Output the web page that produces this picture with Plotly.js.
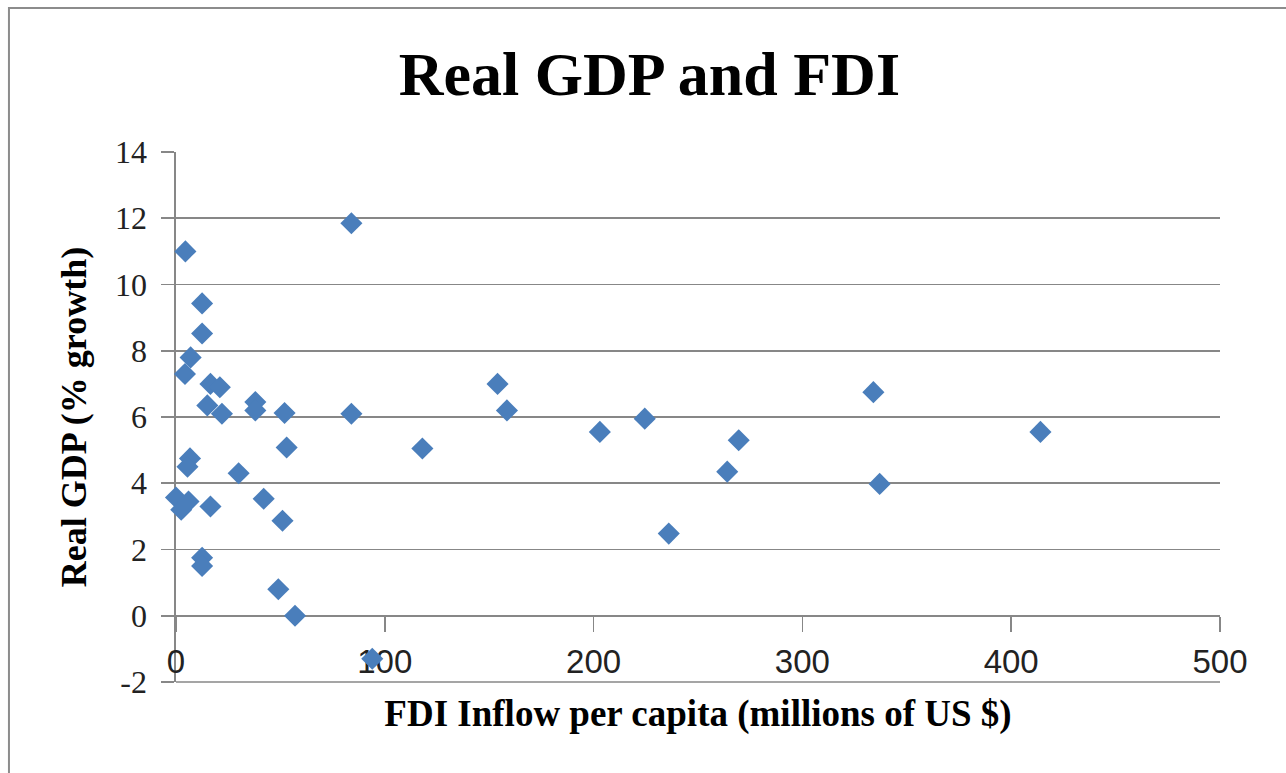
<!DOCTYPE html>
<html>
<head>
<meta charset="utf-8">
<script src="https://cdn.plot.ly/plotly-3.0.1.min.js"></script>
<style>html,body{margin:0;padding:0;background:#fff;} #chart{width:1286px;height:773px;}</style>
</head>
<body>
<div id="chart"></div>
<script>
// FDI inflow per capita (millions of US $)
const fdi = [4.5, 84, 12.5, 12.5, 7, 4.3, 16.5, 21, 15, 22, 38, 38, 52, 53, 6.7, 5.5, 30, 0, 2.5, 6, 16.5, 42, 51, 12.5, 12.5, 49, 57, 94,
             84, 118, 154, 158.5, 203, 224.5, 269.5, 264, 236, 334, 337, 414];
// Real GDP (% growth)
const gdp = [11.0, 11.85, 9.43, 8.52, 7.8, 7.3, 7.0, 6.9, 6.35, 6.1, 6.45, 6.2, 6.12, 5.08, 4.75, 4.5, 4.3, 3.57, 3.2, 3.45, 3.3, 3.53, 2.87, 1.75, 1.5, 0.8, 0.0, -1.3,
             6.1, 5.05, 7.0, 6.2, 5.55, 5.95, 5.3, 4.35, 2.48, 6.75, 3.98, 5.55];
const xTicks = [0, 100, 200, 300, 400, 500];
const yTicks = [-2, 0, 2, 4, 6, 8, 10, 12, 14];

const gridCol = '#878787';
const traces = [
  {
    x: fdi, y: gdp, type: 'scatter', mode: 'markers', cliponaxis: false,
    marker: {symbol: 'diamond', size: 17, color: '#4A7EBB', line: {width: 0}},
    showlegend: false, hoverinfo: 'x+y'
  }
];

const layout = {
  width: 1286, height: 773,
  margin: {l: 176, r: 66, t: 152, b: 91},
  paper_bgcolor: '#ffffff', plot_bgcolor: '#ffffff',
  title: {
    text: 'Real GDP and FDI',
    font: {family: '"Liberation Serif", serif', size: 62, color: '#000', weight: 'bold'},
    x: 0.505, xanchor: 'center', y: 0.905, yanchor: 'middle', xref: 'container', yref: 'container'
  },
  xaxis: {
    range: [0, 500], tickvals: xTicks, ticktext: xTicks.map(String),
    anchor: 'free', position: 0.125, layer: 'below traces',
    ticks: 'outside', ticklen: 15, tickwidth: 1.6, tickcolor: gridCol, ticklabelstandoff: 2,
    showgrid: false, zeroline: false, showline: false,
    tickfont: {family: '"Liberation Sans", sans-serif', size: 33, color: '#222'},
    title: {text: 'FDI Inflow per capita (millions of US $)', standoff: 20,
            font: {family: '"Liberation Serif", serif', size: 37, color: '#000', weight: 'bold'}},
    fixedrange: true
  },
  yaxis: {
    range: [-2, 14], tickvals: yTicks, ticktext: yTicks.map(String),
    showgrid: true, gridcolor: gridCol, gridwidth: 1.6,
    zeroline: true, zerolinecolor: gridCol, zerolinewidth: 1.6,
    showline: true, linecolor: gridCol, linewidth: 1.6, layer: 'below traces',
    ticks: 'outside', ticklen: 13, tickwidth: 1.6, tickcolor: gridCol, ticklabelstandoff: 8,
    tickfont: {family: '"Liberation Serif", serif', size: 32, color: '#222'},
    title: {text: 'Real GDP (% growth)', standoff: 17,
            font: {family: '"Liberation Serif", serif', size: 36, color: '#000', weight: 'bold'}},
    fixedrange: true
  },
  shapes: [
    {type: 'rect', xref: 'paper', yref: 'paper', x0: -0.16, x1: 3, y0: -3, y1: 1.2717,
     line: {color: '#8c8c8c', width: 2}, fillcolor: 'rgba(0,0,0,0)', layer: 'below'},
    {type: 'line', xref: 'paper', yref: 'paper', x0: 0, x1: 1, y0: 0, y1: 0,
     line: {color: gridCol, width: 1.6}, layer: 'below'}
  ]
};

Plotly.newPlot('chart', traces, layout, {displayModeBar: false, staticPlot: true});
</script>
</body>
</html>
